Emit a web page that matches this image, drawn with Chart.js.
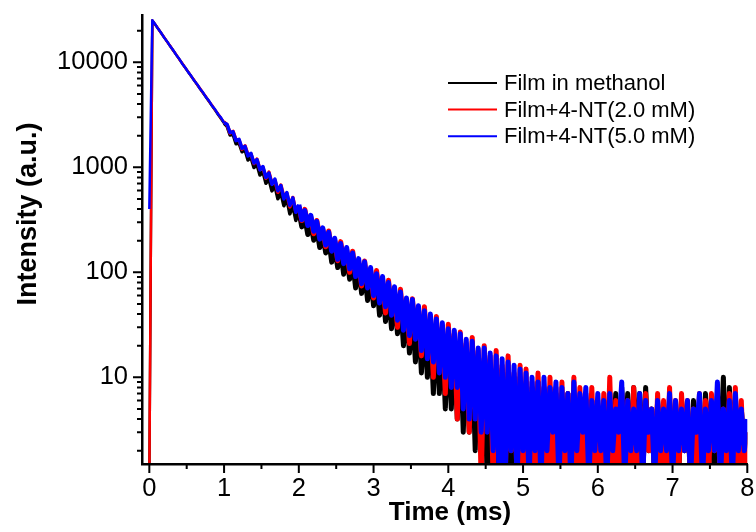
<!DOCTYPE html>
<html>
<head>
<meta charset="utf-8">
<script src="https://cdn.jsdelivr.net/npm/chart.js@4.4.1/dist/chart.umd.min.js"></script>
<style>
    html, body { margin: 0; padding: 0; background: #fff; }
</style>
</head>
<body>
<canvas id="chart" width="756" height="532"></canvas>
<script>
// time axis (ms), one sample every 0.04 ms
const time = [
    0,0.04,0.08,0.12,0.16,0.2,0.24,0.28,0.32,0.36,0.4,0.44,0.48,0.52,0.56,0.6,0.64,0.68,0.72,0.76,0.8,0.84,0.88,0.92,0.96,
    1,1.04,1.08,1.12,1.16,1.2,1.24,1.28,1.32,1.36,1.4,1.44,1.48,1.52,1.56,1.6,1.64,1.68,1.72,1.76,1.8,1.84,1.88,1.92,1.96,
    2,2.04,2.08,2.12,2.16,2.2,2.24,2.28,2.32,2.36,2.4,2.44,2.48,2.52,2.56,2.6,2.64,2.68,2.72,2.76,2.8,2.84,2.88,2.92,2.96,
    3,3.04,3.08,3.12,3.16,3.2,3.24,3.28,3.32,3.36,3.4,3.44,3.48,3.52,3.56,3.6,3.64,3.68,3.72,3.76,3.8,3.84,3.88,3.92,3.96,
    4,4.04,4.08,4.12,4.16,4.2,4.24,4.28,4.32,4.36,4.4,4.44,4.48,4.52,4.56,4.6,4.64,4.68,4.72,4.76,4.8,4.84,4.88,4.92,4.96,
    5,5.04,5.08,5.12,5.16,5.2,5.24,5.28,5.32,5.36,5.4,5.44,5.48,5.52,5.56,5.6,5.64,5.68,5.72,5.76,5.8,5.84,5.88,5.92,5.96,
    6,6.04,6.08,6.12,6.16,6.2,6.24,6.28,6.32,6.36,6.4,6.44,6.48,6.52,6.56,6.6,6.64,6.68,6.72,6.76,6.8,6.84,6.88,6.92,6.96,
    7,7.04,7.08,7.12,7.16,7.2,7.24,7.28,7.32,7.36,7.4,7.44,7.48,7.52,7.56,7.6,7.64,7.68,7.72,7.76,7.8,7.84,7.88,7.92,7.96,
    8
];

// Film in methanol
const filmMethanol = [
    1,25000,22800,20760,18900,17180,15650,14220,12960,11780,10720,9750,8880,8090,7370,6720,6120,5580,5080,4630,4210,3830,3490,3170,2890,
    2630,2464,2034,2063,1674,1709,1406,1474,1175,1241,995,1069,845,909,704,775,596,669,501,571,431,500,360,428,312,
    385,271,333,229,292,202,262,172,225,153,207,125,179,111,159,96,144,86,126,71,118,63,103,54,91,
    48,85,39,73,34,69,29,60,26,52,20,48,17,42,14,41,11,35,10,32,7,30,7,26,5,
    25,5,22,4,20,3,19,3,17,2,16,2,15,1,13,1,12,1,12,1,11,1,10,1,10,
    1,9,1,8,1,9,1,7,1,8,1,7,1,6,1,7,1,6,2,6,1,5,2,6,1,
    5,2,6,1,5,2,7,1,8,2,7,1,8,2,7,1,8,2,5,1,6,2,5,1,6,
    2,5,1,6,2,5,1,6,2,5,1,7,2,6,1,7,2,10,1,8,2,6,1,5,2,
    3
];

// Film+4-NT(2.0 mM)
const film2mM = [
    1,25050,22900,20850,18880,17260,15630,14300,12940,11840,10710,9800,8870,8130,7380,6770,6130,5630,5100,4690,4240,3900,3520,3250,2930,
    2700,2540,2118,2196,1819,1818,1491,1602,1313,1337,1088,1195,955,994,787,899,707,756,579,678,524,565,420,516,379,
    427,311,398,290,337,233,312,223,258,175,247,163,203,129,196,129,165,100,159,98,128,74,128,74,105,
    57,104,59,86,41,84,44,66,30,69,32,54,21,56,26,45,16,47,19,35,10,38,13,30,7,
    32,11,26,4,27,8,21,3,24,5,18,1,20,5,16,1,18,3,13,1,16,2,11,1,13,
    1,12,1,9,1,11,2,8,1,10,1,8,1,9,1,7,1,10,1,8,1,7,2,8,1,
    6,1,7,1,10,1,6,1,7,2,6,1,8,1,6,1,7,2,5,1,7,1,6,1,8,
    1,6,1,7,2,6,1,5,1,7,1,6,1,7,2,6,1,5,1,7,1,8,1,6,1,
    3
];

// Film+4-NT(5.0 mM)
const film5mM = [
    400,25110,22930,20720,18990,17150,15720,14190,13030,11750,10790,9710,8930,8060,7430,6700,6190,5570,5150,4630,4290,3850,3570,3200,2970,
    2650,2570,2141,2178,1797,1843,1515,1583,1284,1355,1098,1185,946,1018,799,882,688,772,597,669,500,574,433,512,373,
    441,317,387,279,349,246,306,207,265,182,241,159,211,133,188,121,172,108,153,91,135,78,126,71,111,
    60,97,51,91,47,80,39,73,35,65,28,57,25,55,23,48,18,43,15,40,14,36,11,33,10,
    29,8,28,8,26,5,23,4,22,4,19,3,19,3,17,2,16,1,15,1,14,2,13,1,12,
    2,11,1,10,2,9,1,10,2,8,3,9,1,8,2,7,1,9,2,7,3,8,1,6,2,
    7,2,6,1,7,2,5,3,9,1,6,2,5,2,7,1,6,3,5,1,6,2,5,2,7,
    1,6,2,5,2,6,1,5,3,7,1,5,2,6,2,9,1,5,2,6,1,7,2,5,2,
    4
];

const seriesLabels = ["Film in methanol", "Film+4-NT(2.0 mM)", "Film+4-NT(5.0 mM)"];
const seriesColors = ["#000000", "#ff0000", "#0000ff"];

const xMajor = [0, 1, 2, 3, 4, 5, 6, 7, 8];
const xMinor = [0.5, 1.5, 2.5, 3.5, 4.5, 5.5, 6.5, 7.5];
const yMajor = [10, 100, 1000, 10000];
const yMinor = [
    2, 3, 4, 5, 6, 7, 8, 9,
    20, 30, 40, 50, 60, 70, 80, 90,
    200, 300, 400, 500, 600, 700, 800, 900,
    2000, 3000, 4000, 5000, 6000, 7000, 8000, 9000,
    20000
];

function toPoints(values) {
    return values.map((v, i) => ({ x: time[i], y: v }));
}

// the noisy tail is drawn wider so the dense trace reads as a band
const tailWidth = {
    borderWidth: (c) => {
        const t = c.p0.parsed.x;
        if (t < 1) return 2.5;
        if (t < 2) return 3.5;
        return 5;
    },
};

// tick marks, legend and axis titles
const decor = {
    id: "decor",
    afterDraw(chart) {
        const ctx = chart.ctx;
        const a = chart.chartArea;
        const x = chart.scales.x;
        const y = chart.scales.y;

        ctx.save();
        ctx.strokeStyle = "#000";
        ctx.lineWidth = 2;
        ctx.beginPath();
        xMajor.forEach((v) => {
            const px = x.getPixelForValue(v);
            ctx.moveTo(px, a.bottom);
            ctx.lineTo(px, a.bottom + 9);
        });
        xMinor.forEach((v) => {
            const px = x.getPixelForValue(v);
            ctx.moveTo(px, a.bottom);
            ctx.lineTo(px, a.bottom + 5);
        });
        yMajor.forEach((v) => {
            const py = y.getPixelForValue(v);
            ctx.moveTo(a.left, py);
            ctx.lineTo(a.left - 9, py);
        });
        yMinor.forEach((v) => {
            const py = y.getPixelForValue(v);
            ctx.moveTo(a.left, py);
            ctx.lineTo(a.left - 5, py);
        });
        ctx.stroke();

        // legend
        ctx.font = "22px Arial";
        ctx.textAlign = "left";
        ctx.textBaseline = "alphabetic";
        seriesLabels.forEach((label, i) => {
            const ly = 83 + i * 26.6;
            ctx.strokeStyle = seriesColors[i];
            ctx.lineWidth = 2;
            ctx.beginPath();
            ctx.moveTo(448, ly);
            ctx.lineTo(497, ly);
            ctx.stroke();
            ctx.fillStyle = "#000";
            ctx.fillText(label, 504, ly + 7);
        });

        // axis titles
        ctx.fillStyle = "#000";
        ctx.font = "bold 26px Arial";
        ctx.textAlign = "center";
        ctx.fillText("Time (ms)", 450, 520);

        ctx.save();
        ctx.translate(36, 214);
        ctx.rotate(-Math.PI / 2);
        ctx.font = "bold 27px Arial";
        ctx.fillText("Intensity (a.u.)", 0, 0);
        ctx.restore();

        ctx.restore();
    },
};

line_chart();
function line_chart() {
    const $chart = document.getElementById("chart");
    const ctx = $chart.getContext("2d");

    const data = {
        datasets: [
            {
                label: seriesLabels[0],
                data: toPoints(filmMethanol),
                borderColor: seriesColors[0],
                segment: tailWidth,
                order: 2,
            },
            {
                label: seriesLabels[1],
                data: toPoints(film2mM),
                borderColor: seriesColors[1],
                segment: tailWidth,
                order: 1,
            },
            {
                label: seriesLabels[2],
                data: toPoints(film5mM),
                borderColor: seriesColors[2],
                segment: tailWidth,
                order: 0,
            },
        ],
    };

    new Chart(ctx, {
        type: "line",
        data: data,
        options: {
            responsive: false,
            animation: false,
            devicePixelRatio: 1,
            layout: {
                padding: { top: 15, right: 8.7, left: 0, bottom: 0 },
            },
            elements: {
                line: { borderWidth: 2.5, tension: 0, fill: false, borderJoinStyle: "round" },
                point: { radius: 0 },
            },
            plugins: {
                legend: { display: false },
                tooltip: { enabled: false },
            },
            scales: {
                x: {
                    type: "linear",
                    min: -0.098,
                    max: 8,
                    afterBuildTicks: (scale) => {
                        scale.ticks = xMajor.map((v) => ({ value: v }));
                    },
                    afterFit: (scale) => {
                        scale.height = 68;
                        scale.paddingLeft = 0;
                        scale.paddingRight = 0;
                    },
                    ticks: {
                        autoSkip: false,
                        maxRotation: 0,
                        padding: 10,
                        color: "#000",
                        font: { family: "Arial", size: 25.5 },
                        callback: (value) => String(value),
                    },
                    grid: { display: false, drawTicks: false },
                    border: { display: true, color: "#000", width: 2.5, z: 1 },
                },
                y: {
                    type: "logarithmic",
                    min: 1.494,
                    max: 28220,
                    afterBuildTicks: (scale) => {
                        scale.ticks = yMajor.map((v) => ({ value: v }));
                    },
                    afterFit: (scale) => {
                        scale.width = 142;
                        scale.paddingTop = 0;
                        scale.paddingBottom = 0;
                    },
                    ticks: {
                        autoSkip: false,
                        padding: 14,
                        color: "#000",
                        font: { family: "Arial", size: 25.5 },
                        callback: (value) => String(value),
                    },
                    grid: { display: false, drawTicks: false },
                    border: { display: true, color: "#000", width: 2.5, z: 1 },
                },
            },
        },
        plugins: [decor],
    });
}
</script>
</body>
</html>
